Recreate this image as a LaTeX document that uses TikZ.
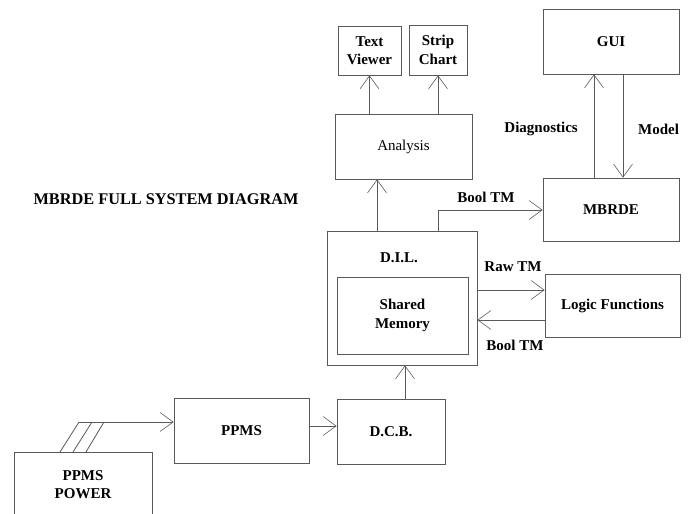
\documentclass[tikz,border=0pt]{standalone}
\usepackage{fontspec}
\setmainfont{Liberation Serif}
\usetikzlibrary{arrows.meta}
\begin{document}
\begin{tikzpicture}[x=1pt,y=-1pt,
  box/.style={draw=black!65,line width=0.8pt,rectangle,inner sep=0pt,align=center,font=\fontsize{15}{18.5}\selectfont\bfseries},
  lbl/.style={font=\fontsize{15}{18.5}\selectfont\bfseries,inner sep=0pt},
  ln/.style={draw=black!65,line width=0.8pt},
  arr/.style={ln,-{Straight Barb[length=13pt,width=19pt,line width=0.6pt]}}]
\useasboundingbox (0,0) rectangle (689,514);
\clip (0,0) rectangle (689,514);
% boxes
\node[box,minimum width=63pt,minimum height=49pt] (tv) at (369.5,50.5) {Text\\Viewer};
\node[box,minimum width=58pt,minimum height=50pt] (sc) at (438,50) {Strip\\Chart};
\node[box,minimum width=137pt,minimum height=65pt,font=\fontsize{15}{18.5}\selectfont] (an) at (403.5,146.5) {Analysis};
\node[box,minimum width=136pt,minimum height=65pt] (gui) at (611,41.5) {GUI};
\node[box,minimum width=136pt,minimum height=63pt] (mb) at (611,209.5) {MBRDE};
\node[box,minimum width=150pt,minimum height=134pt] (dil) at (402,298) {};
\node[lbl] (dill) at (399,258) {D.I.L.};
\node[box,minimum width=131pt,minimum height=77pt] (sm) at (402.5,315.5) {Shared\\Memory};
\node[box,minimum width=135pt,minimum height=63pt] (lf) at (612.5,305.5) {Logic Functions};
\node[box,minimum width=108pt,minimum height=65pt] (dcb) at (391,431.5) {D.C.B.};
\node[box,minimum width=135pt,minimum height=65pt] (pp) at (241.5,430.5) {PPMS};
\node[box,minimum width=138pt,minimum height=90pt,anchor=north] (pw) at (83,452) {};
\node[lbl,align=center] (pwl) at (83,484.5) {PPMS\\POWER};
\node[lbl,font=\fontsize{16.3}{19}\selectfont\bfseries] (title) at (166,199) {MBRDE FULL SYSTEM DIAGRAM};
% labels
\node[lbl,anchor=east] (diag) at (578,129) {Diagnostics};
\node[lbl,anchor=west] (model) at (638,129) {Model};
\node[lbl] (bt1) at (486,197) {Bool TM};
\node[lbl] (raw) at (513,267) {Raw TM};
\node[lbl] (bt2) at (515,345) {Bool TM};
% connectors
\draw[arr] (an.north -| tv.south) -- (tv.south);
\draw[arr] (an.north -| sc.south) -- (sc.south);
\draw[arr] (dil.north -| 377,0) -- (an.south -| 377,0);
\coordinate (bk) at (438,210);
\draw[arr] (dil.north -| bk) -- (bk) -- (mb.west |- bk);
\draw[arr] (mb.north -| 594,0) -- (gui.south -| 594,0);
\draw[arr] (gui.south -| 623,0) -- (mb.north -| 623,0);
\draw[arr] (dil.east |- 0,290) -- (lf.west |- 0,290);
\draw[arr] (lf.west |- 0,320) -- (dil.east |- 0,320);
\draw[arr] (dcb.north -| 405,0) -- (dil.south -| 405,0);
\draw[arr] (pp.east |- 0,426) -- (dcb.west |- 0,426);
\coordinate (p1) at (79,422);
\coordinate (p2) at (92,422);
\coordinate (p3) at (104,422);
\draw[ln] (pw.north -| 60,0) -- (p1);
\draw[ln] (pw.north -| 73,0) -- (p2);
\draw[ln] (pw.north -| 86,0) -- (p3);
\draw[arr] (p1) -- (pp.west |- p1);
\end{tikzpicture}
\end{document}
